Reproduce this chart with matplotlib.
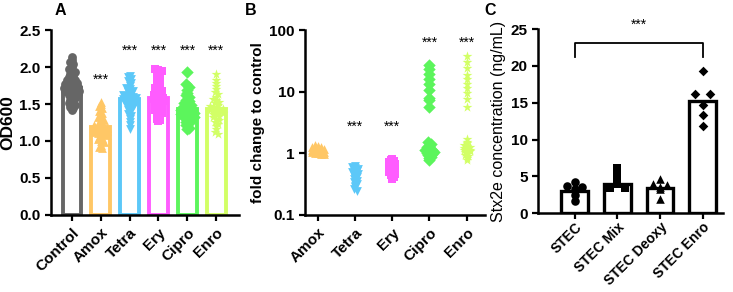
import numpy as np
import matplotlib
matplotlib.use('Agg')
import matplotlib.pyplot as plt

plt.rcParams['font.family'] = ['Liberation Sans', 'DejaVu Sans']

#%% data
groupsA = ['Control', 'Amox', 'Tetra', 'Ery', 'Cipro', 'Enro']
meansA = [1.72, 1.19, 1.57, 1.58, 1.43, 1.43]
pointsA = [
    [2.13, 2.10, 2.07, 2.04, 2.00, 1.97, 1.95, 1.93, 1.90, 1.88, 1.86, 1.85, 1.83, 1.82,
     1.80, 1.80, 1.78, 1.77, 1.76, 1.75, 1.74, 1.73, 1.72, 1.72, 1.71, 1.70, 1.70, 1.69,
     1.68, 1.67, 1.66, 1.65, 1.64, 1.63, 1.62, 1.60, 1.58, 1.56, 1.54, 1.52, 1.50, 1.48,
     1.46, 1.44, 1.42],
    [1.53, 1.50, 1.47, 1.44, 1.41, 1.38, 1.35, 1.32, 1.30, 1.28, 1.26, 1.24, 1.22, 1.21,
     1.20, 1.19, 1.18, 1.17, 1.16, 1.15, 1.14, 1.13, 1.12, 1.11, 1.10, 1.09, 1.08, 1.06,
     1.04, 1.02, 1.00, 0.98, 0.95, 0.92, 0.90],
    [1.88, 1.86, 1.84, 1.81, 1.78, 1.75, 1.72, 1.70, 1.68, 1.66, 1.64, 1.62, 1.61, 1.60,
     1.59, 1.58, 1.57, 1.56, 1.55, 1.54, 1.53, 1.52, 1.51, 1.50, 1.48, 1.46, 1.44, 1.42,
     1.40, 1.37, 1.34, 1.30, 1.26, 1.21, 1.16],
    [1.97, 1.96, 1.94, 1.92, 1.90, 1.87, 1.84, 1.81, 1.78, 1.75, 1.72, 1.70, 1.68, 1.66,
     1.64, 1.62, 1.60, 1.59, 1.58, 1.57, 1.56, 1.55, 1.54, 1.52, 1.50, 1.48, 1.46, 1.44,
     1.42, 1.40, 1.38, 1.36, 1.33, 1.30, 1.28, 1.27],
    [1.93, 1.77, 1.73, 1.69, 1.65, 1.62, 1.59, 1.56, 1.54, 1.52, 1.50, 1.48, 1.46, 1.45,
     1.44, 1.43, 1.42, 1.41, 1.40, 1.39, 1.38, 1.37, 1.36, 1.35, 1.34, 1.33, 1.32, 1.30,
     1.28, 1.26, 1.24, 1.21, 1.18, 1.16],
    [1.90, 1.83, 1.78, 1.74, 1.70, 1.66, 1.63, 1.60, 1.57, 1.55, 1.53, 1.51, 1.49, 1.47,
     1.46, 1.45, 1.44, 1.43, 1.42, 1.41, 1.40, 1.39, 1.38, 1.37, 1.36, 1.34, 1.32, 1.30,
     1.28, 1.26, 1.23, 1.20, 1.16, 1.12, 1.10],
]
starsA = [None, 1.83, 2.22, 2.22, 2.22, 2.22]

groupsB = ['Amox', 'Tetra', 'Ery', 'Cipro', 'Enro']
pointsB = [
    [1.35, 1.32, 1.28, 1.25, 1.22, 1.20, 1.18, 1.16, 1.14, 1.12, 1.10, 1.08, 1.06, 1.04,
     1.02, 1.00, 0.98, 0.96],
    [0.62, 0.60, 0.58, 0.56, 0.54, 0.52, 0.50, 0.48, 0.46, 0.44, 0.42, 0.40, 0.38, 0.36,
     0.34, 0.32, 0.30, 0.28, 0.26, 0.24],
    [0.80, 0.78, 0.75, 0.72, 0.70, 0.67, 0.64, 0.62, 0.60, 0.58, 0.56, 0.54, 0.52, 0.50,
     0.48, 0.46, 0.44, 0.42, 0.40, 0.38],
    [27.0, 23.0, 19.5, 16.0, 13.5, 10.5, 8.0, 7.2, 5.6,
     1.50, 1.40, 1.32, 1.25, 1.20, 1.15, 1.12, 1.10, 1.08, 1.05, 1.02, 1.00, 0.97, 0.93,
     0.88, 0.83, 0.77],
    [38.0, 30.0, 24.0, 19.0, 16.0, 13.5, 11.5, 9.5, 7.5, 5.7,
     1.70, 1.55, 1.45, 1.38, 1.32, 1.27, 1.22, 1.18, 1.15, 1.12, 1.10, 1.07, 1.04, 1.00,
     0.95, 0.90, 0.85, 0.78],
]
starsB = [None, 2.7, 2.7, 62, 62]

groupsC = ['STEC', 'STEC Mix', 'STEC Deoxy', 'STEC Enro']
meansC = [3.0, 4.0, 3.4, 15.2]
pointsC = [
    [4.2, 3.7, 3.6, 3.3, 2.5, 1.7],
    [6.1, 5.1, 4.3, 4.0, 3.4, 3.4],
    [4.6, 3.9, 3.8, 3.6, 3.3, 1.9],
    [19.3, 16.2, 16.2, 14.7, 13.4, 11.9],
]

colors = ['#666666', '#FFC766', '#5CC8F8', '#FF5CFF', '#5CF55C', '#D2FF66']
markersA = ['o', '^', 'v', 's', 'D', '*']


def swarm(vals, step, dx, maxoff, log=False):
    """spread points that share a bin horizontally (simple beeswarm)"""
    v = np.log10(vals) if log else np.asarray(vals, float)
    bins = np.round(v / step)
    off = np.zeros(len(v))
    for b in np.unique(bins):
        idx = np.where(bins == b)[0]
        n = len(idx)
        off[idx] = (np.arange(n) - (n - 1) / 2) * dx
    return np.clip(off, -maxoff, maxoff)


def style(ax):
    for s in ['top', 'right']:
        ax.spines[s].set_visible(False)
    for s in ['left', 'bottom']:
        ax.spines[s].set_linewidth(1.8)
    ax.tick_params(width=1.6, length=4, labelsize=11)
    for lab in ax.get_yticklabels():
        lab.set_fontweight('bold')


fig = plt.figure(figsize=(7.33, 2.92), dpi=100)

#%% Panel A
ax1 = fig.add_axes([0.0696, 0.264, 0.257, 0.633])
xA = np.arange(len(groupsA))
ax1.bar(xA, meansA, width=0.64, facecolor='white', edgecolor=colors, linewidth=2.8, zorder=1)
for i, pts in enumerate(pointsA):
    off = swarm(pts, 0.05, 0.11, 0.26)
    ax1.scatter(xA[i] + off, pts, marker=markersA[i], s=40 if i != 5 else 55,
                color=colors[i], linewidths=0, zorder=2)
    if starsA[i] is not None:
        ax1.text(xA[i], starsA[i], '***', ha='center', va='center', fontsize=10)
ax1.set_xlim(-0.72, 5.8)
ax1.set_ylim(0, 2.5)
ax1.set_yticks([0, 0.5, 1.0, 1.5, 2.0, 2.5])
ax1.set_xticks(xA)
ax1.set_xticklabels(groupsA, rotation=45, ha='right', rotation_mode='anchor',
                    fontweight='bold')
ax1.set_ylabel('OD600', fontsize=12.5, fontweight='bold', labelpad=3)
style(ax1)
fig.text(0.083, 0.965, 'A', fontsize=11.5, fontweight='bold', ha='center', va='center')

#%% Panel B
ax2 = fig.add_axes([0.416, 0.264, 0.246, 0.633])
xB = np.arange(len(groupsB))
for i, pts in enumerate(pointsB):
    off = swarm(pts, 0.04, 0.08, 0.24, log=True)
    ax2.scatter(xB[i] + off, pts, marker=markersA[i + 1], s=40 if i != 4 else 55,
                color=colors[i + 1], linewidths=0, zorder=2)
    if starsB[i] is not None:
        ax2.text(xB[i], starsB[i], '***', ha='center', va='center', fontsize=10)
ax2.set_yscale('log')
ax2.set_xlim(-0.35, 4.5)
ax2.set_ylim(0.1, 100)
ax2.set_yticks([0.1, 1, 10, 100])
ax2.set_yticklabels(['0.1', '1', '10', '100'])
ax2.minorticks_off()
ax2.set_xticks(xB)
ax2.set_xticklabels(groupsB, rotation=45, ha='right', rotation_mode='anchor',
                    fontweight='bold')
ax2.set_ylabel('fold change to control', fontsize=11, fontweight='bold', labelpad=3)
style(ax2)
fig.text(0.342, 0.965, 'B', fontsize=11.5, fontweight='bold', ha='center', va='center')

#%% Panel C
ax3 = fig.add_axes([0.734, 0.27, 0.252, 0.63])
xC = np.arange(len(groupsC))
markersC = ['o', 's', '^', 'D']
ax3.bar(xC, meansC, width=0.62, facecolor='white', edgecolor='black', linewidth=2.4, zorder=1)
for i, pts in enumerate(pointsC):
    off = swarm(pts, 0.3, 0.34, 0.3)
    ax3.scatter(xC[i] + off, pts, marker=markersC[i], s=38 if i != 3 else 24,
                color='black', linewidths=0, zorder=2)
ax3.plot([0, 0, 3, 3], [21.2, 23.1, 23.1, 21.2], color='black', lw=1.3, clip_on=False)
ax3.text(1.5, 25.6, '***', ha='center', va='center', fontsize=10, clip_on=False)
ax3.set_xlim(-0.86, 3.47)
ax3.set_ylim(0, 25)
ax3.set_yticks([0, 5, 10, 15, 20, 25])
ax3.set_xticks(xC)
style(ax3)
ax3.set_xticklabels(groupsC, rotation=45, ha='right', rotation_mode='anchor',
                    fontweight='bold', fontsize=10)
ax3.tick_params(axis='x', pad=1)
ax3.set_ylabel('Stx2e concentration (ng/mL)', fontsize=11.5, labelpad=3)
fig.text(0.668, 0.965, 'C', fontsize=11.5, fontweight='bold', ha='center', va='center')

plt.savefig('out.png', dpi=100)
